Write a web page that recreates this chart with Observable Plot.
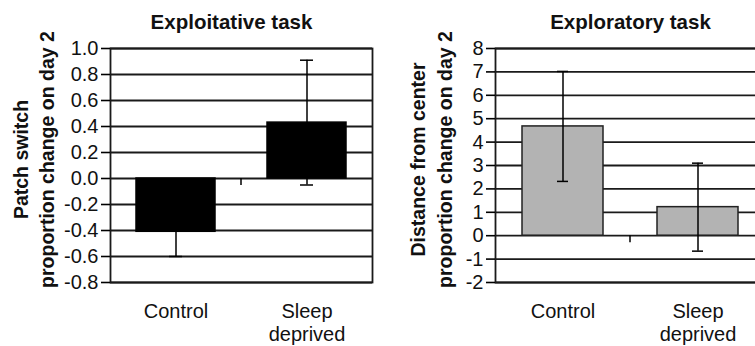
<!DOCTYPE html>
<html><head><meta charset="utf-8">
<script src="https://cdn.jsdelivr.net/npm/d3@7"></script>
<script src="https://cdn.jsdelivr.net/npm/@observablehq/plot@0.6"></script>
<style>
html,body{margin:0;padding:0;background:#fff;overflow:hidden}
#wrap{width:755px;height:346px;overflow:hidden;display:flex;position:relative}
#wrap svg{flex:none;display:block}
</style></head><body><div id="wrap"></div>
<script>
const groups = ["Control", "Sleep\ndeprived"];

const exploitTitle = "Exploitative task";
const exploitYLabel = "Patch switch\nproportion change on day 2";
const exploitMean = [-0.41, 0.43];
const exploitErr = [0.19, 0.48];
const exploitTicks = [-0.8, -0.6, -0.4, -0.2, 0.0, 0.2, 0.4, 0.6, 0.8, 1.0];

const exploreTitle = "Exploratory task";
const exploreYLabel = "Distance from center\nproportion change on day 2";
const exploreMean = [4.67, 1.22];
const exploreErr = [2.35, 1.88];
const exploreTicks = [-2, -1, 0, 1, 2, 3, 4, 5, 6, 7, 8];

const FONT = "'Liberation Sans', Arial, Helvetica, sans-serif";
const INK = "#000";

function chart({title, ylabel, mean, err, ticks, fmt, width, marginLeft, marginRight,
                fill, barStroke, capInset, titleDx, labelDx, labelLH}) {
  const data = groups.map((g, i) => ({group: g, value: mean[i], lo: mean[i] - err[i], hi: mean[i] + err[i]}));
  const midTick = (index, scales) => {
    const x = scales.x, y = scales.y;
    const gap = x.step() - x.bandwidth();
    const bx = x(groups[1]) - gap / 2;
    const y0 = y(0);
    const g = d3.create("svg:g");
    g.append("line").attr("x1", bx).attr("x2", bx).attr("y1", y0).attr("y2", y0 + 7)
      .attr("stroke", INK).attr("stroke-width", 1.5);
    return g.node();
  };
  return Plot.plot({
    width, height: 346,
    marginLeft, marginRight, marginTop: 48, marginBottom: 64,
    style: {fontFamily: FONT, background: "#fff", color: INK, overflow: "visible"},
    x: {domain: groups, paddingInner: 0.4, paddingOuter: 0.2, label: null},
    y: {domain: [ticks[0], ticks[ticks.length - 1]], label: null},
    marks: [
      Plot.ruleY(ticks, {stroke: "#1a1a1a", strokeWidth: 1.8}),
      Plot.barY(data, {x: "group", y: "value", fill, stroke: barStroke, strokeWidth: 1.5}),
      Plot.ruleX(data, {x: "group", y1: "lo", y2: "hi", stroke: INK, strokeWidth: 1.5}),
      Plot.tickY(data, {x: "group", y: "lo", stroke: INK, strokeWidth: 1.5, insetLeft: capInset, insetRight: capInset}),
      Plot.tickY(data, {x: "group", y: "hi", stroke: INK, strokeWidth: 1.5, insetLeft: capInset, insetRight: capInset}),
      midTick,
      Plot.frame({stroke: "#1a1a1a", strokeWidth: 1.8}),
      Plot.axisY({ticks, tickFormat: fmt, tickSize: 9, tickPadding: 3, fontSize: 20, stroke: INK, strokeWidth: 1.6, fill: "#111", label: null}),
      Plot.axisX({tickSize: 0, tickPadding: 19, fontSize: 20, lineHeight: 1.15, fill: "#111", label: null}),
      Plot.text([title], {frameAnchor: "top", dx: titleDx, dy: -20, lineAnchor: "bottom",
        fontSize: 20.5, fontWeight: "bold", fill: "#111"}),
      Plot.text([ylabel], {frameAnchor: "left", dx: labelDx, dy: -6, rotate: -90, textAnchor: "middle",
        lineAnchor: "middle", lineHeight: labelLH, fontSize: 19.5, fontWeight: "bold", fill: "#111"})
    ]
  });
}

const wrap = document.getElementById("wrap");
wrap.appendChild(chart({
  title: exploitTitle, ylabel: exploitYLabel, mean: exploitMean, err: exploitErr, ticks: exploitTicks,
  fmt: d => d.toFixed(1), width: 380, marginLeft: 110, marginRight: 8,
  fill: "#000", barStroke: "#000", capInset: 33, titleDx: -10, labelDx: -78, labelLH: 1.35
}));
wrap.appendChild(chart({
  title: exploreTitle, ylabel: exploreYLabel, mean: exploreMean, err: exploreErr, ticks: exploreTicks,
  fmt: d => String(d), width: 395, marginLeft: 115, marginRight: 10,
  fill: "#b3b3b3", barStroke: "#222", capInset: 35, titleDx: 0, labelDx: -66, labelLH: 1.42
}));
</script></body></html>
